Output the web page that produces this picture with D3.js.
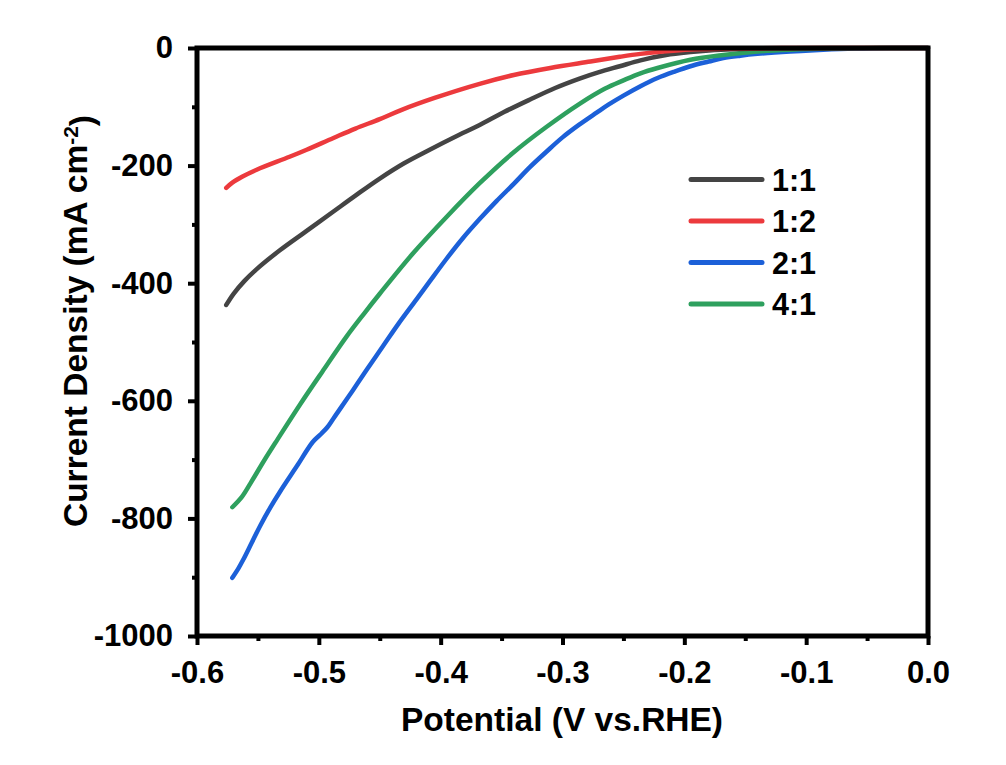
<!DOCTYPE html>
<html>
<head>
<meta charset="utf-8">
<script src="https://cdn.jsdelivr.net/npm/d3@7"></script>
<style>
  html, body { margin: 0; padding: 0; background: #fff; }
  svg { display: block; }
  text { font-family: "Liberation Sans", Arial, sans-serif; font-weight: bold; fill: #000; }
</style>
</head>
<body>
<svg id="chart" width="1006" height="765"></svg>
<script>
// ---- data ----
const seriesNames = ["1:1", "1:2", "2:1", "4:1"];
const seriesColors = ["#444444", "#ec3a3d", "#1c60d8", "#2ea05e"];

const potential_1_1 = [-0.576,-0.570,-0.561,-0.551,-0.532,-0.510,-0.488,-0.470,-0.450,-0.430,-0.409,-0.388,-0.368,-0.348,-0.327,-0.306,-0.286,-0.270,-0.253,-0.236,-0.215,-0.195,-0.175,-0.154,-0.120,-0.080,0.000];
const current_1_1   = [-437,-418,-396,-376,-344,-311,-278,-251,-222,-196,-173,-151,-131,-109,-88,-68,-52,-41,-31,-21,-12,-7,-3.5,-1.5,-0.5,0,0];

const potential_1_2 = [-0.576,-0.571,-0.563,-0.551,-0.524,-0.510,-0.488,-0.470,-0.450,-0.433,-0.405,-0.368,-0.340,-0.310,-0.277,-0.253,-0.236,-0.215,-0.195,-0.160,-0.120,0.000];
const current_1_2   = [-238,-229,-219,-207,-185,-173,-153,-137,-121,-106,-85,-61,-46,-34,-23,-15,-10,-5.5,-2.5,-1,0,0];

const potential_2_1 = [-0.571,-0.566,-0.562,-0.555,-0.548,-0.540,-0.532,-0.518,-0.505,-0.498,-0.493,-0.488,-0.483,-0.472,-0.461,-0.447,-0.435,-0.420,-0.409,-0.395,-0.382,-0.368,-0.354,-0.340,-0.327,-0.313,-0.300,-0.286,-0.272,-0.262,-0.250,-0.236,-0.222,-0.208,-0.195,-0.180,-0.168,-0.154,-0.140,-0.113,-0.086,-0.060,-0.030,0.000];
const current_2_1   = [-901,-885,-870,-841,-812,-782,-755,-711,-670,-656,-645,-630,-615,-582,-548,-506,-470,-428,-397,-358,-324,-291,-260,-231,-203,-176,-152,-130,-110,-96,-81,-65,-51,-40,-31,-23,-17,-13,-10,-6,-3,-1,0,0];

const potential_4_1 = [-0.571,-0.563,-0.556,-0.545,-0.534,-0.515,-0.497,-0.477,-0.463,-0.450,-0.423,-0.395,-0.368,-0.341,-0.313,-0.286,-0.265,-0.250,-0.236,-0.222,-0.195,-0.168,-0.140,-0.113,-0.080,-0.040,0.000];
const current_4_1   = [-781,-763,-740,-702,-666,-605,-550,-490,-452,-418,-350,-287,-230,-179,-134,-95,-69,-55,-43,-34,-20,-12,-6,-3,-1,0,0];

const xMajorTicks = [-0.6,-0.5,-0.4,-0.3,-0.2,-0.1,0.0];
const xMinorTicks = [-0.55,-0.45,-0.35,-0.25,-0.15,-0.05];
const yMajorTicks = [0,-200,-400,-600,-800,-1000];
const yMinorTicks = [-100,-300,-500,-700,-900];

const xTitle = "Potential (V vs.RHE)";
const yTitleMain = "Current Density (mA cm";
const yTitleSup = "-2";
const yTitleEnd = ")";

// ---- layout ----
const L = 197, R = 928, T = 48, B = 636;
const svg = d3.select("#chart");

const x = d3.scaleLinear().domain([-0.6, 0]).range([L, R]);
const y = d3.scaleLinear().domain([-1000, 0]).range([B, T]);

const series = [
  { name: seriesNames[0], color: seriesColors[0], xs: potential_1_1, ys: current_1_1 },
  { name: seriesNames[1], color: seriesColors[1], xs: potential_1_2, ys: current_1_2 },
  { name: seriesNames[2], color: seriesColors[2], xs: potential_2_1, ys: current_2_1 },
  { name: seriesNames[3], color: seriesColors[3], xs: potential_4_1, ys: current_4_1 }
];

const line = d3.line().x(d => x(d[0])).y(d => y(d[1])).curve(d3.curveCatmullRom.alpha(0.5));

const drawOrder = [2, 3, 0, 1];
drawOrder.forEach(i => {
  const s = series[i];
  svg.append("path")
    .datum(s.xs.map((v, k) => [v, s.ys[k]]))
    .attr("d", line)
    .attr("fill", "none")
    .attr("stroke", s.color)
    .attr("stroke-width", 4.5)
    .attr("stroke-linecap", "round")
    .attr("stroke-linejoin", "round");
});

// axes
const tickFontSize = 31;
const xAxis = svg.append("g").attr("transform", `translate(0,${B})`)
  .call(d3.axisBottom(x).tickValues(xMajorTicks).tickSize(9).tickPadding(16)
        .tickFormat(d => d.toFixed(1)));
xAxis.select(".domain").remove();
xAxis.selectAll(".tick line").attr("stroke", "#000").attr("stroke-width", 4);
xAxis.selectAll(".tick text").style("font-size", tickFontSize + "px").attr("fill", "#000");

const xAxisMinor = svg.append("g").attr("transform", `translate(0,${B})`)
  .call(d3.axisBottom(x).tickValues(xMinorTicks).tickSize(5).tickFormat(""));
xAxisMinor.select(".domain").remove();
xAxisMinor.selectAll(".tick line").attr("stroke", "#000").attr("stroke-width", 4);

const yAxis = svg.append("g").attr("transform", `translate(${L},0)`)
  .call(d3.axisLeft(y).tickValues(yMajorTicks).tickSize(9).tickPadding(15)
        .tickFormat(d => String(d)));
yAxis.select(".domain").remove();
yAxis.selectAll(".tick line").attr("stroke", "#000").attr("stroke-width", 4);
yAxis.selectAll(".tick text").style("font-size", tickFontSize + "px").attr("fill", "#000");

const yAxisMinor = svg.append("g").attr("transform", `translate(${L},0)`)
  .call(d3.axisLeft(y).tickValues(yMinorTicks).tickSize(5).tickFormat(""));
yAxisMinor.select(".domain").remove();
yAxisMinor.selectAll(".tick line").attr("stroke", "#000").attr("stroke-width", 4);

// frame
svg.append("rect")
  .attr("x", L).attr("y", T).attr("width", R - L).attr("height", B - T)
  .attr("fill", "none").attr("stroke", "#000").attr("stroke-width", 5);

// axis titles
svg.append("text")
  .attr("x", 562).attr("y", 731)
  .attr("text-anchor", "middle")
  .style("font-size", "33.5px")
  .text(xTitle);

const yt = svg.append("text")
  .attr("transform", "translate(87,321) rotate(-90)")
  .attr("text-anchor", "middle")
  .style("font-size", "33.5px");
yt.append("tspan").text(yTitleMain);
yt.append("tspan").attr("dy", "-0.45em").style("font-size", "21px").text(yTitleSup);
yt.append("tspan").attr("dy", "0.45em").text(yTitleEnd);

// legend
const legX1 = 691, legX2 = 762, legY0 = 179.5, legDY = 41.5;
series.forEach((s, i) => {
  const ly = legY0 + i * legDY;
  svg.append("line")
    .attr("x1", legX1).attr("x2", legX2).attr("y1", ly).attr("y2", ly)
    .attr("stroke", s.color).attr("stroke-width", 5).attr("stroke-linecap", "round");
  svg.append("text")
    .attr("x", 772).attr("y", ly + 11)
    .style("font-size", "30.5px")
    .text(s.name);
});
</script>
</body>
</html>
